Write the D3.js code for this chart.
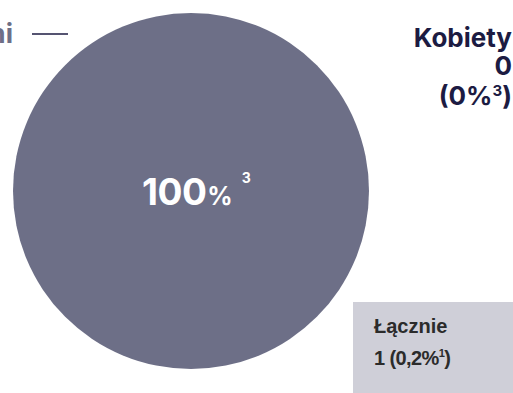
<!DOCTYPE html>
<html>
<head>
<meta charset="utf-8">
<script src="https://cdn.jsdelivr.net/npm/d3@7"></script>
<style>
  html, body { margin: 0; padding: 0; background: #fff; }
  svg { display: block; }
</style>
</head>
<body>
<svg id="chart" width="513" height="393"></svg>
<script>
// Gender split of the count
const categories = ["Mężczyźni", "Kobiety"];
const counts = [1, 0];
const shareLabels = ["100", "0"];
const totalLabel = ["Łącznie", "1 (0,2%", "1", ")"];

const W = 513, H = 393;
const cx = 191, cy = 191, radius = 178;
const colors = d3.scaleOrdinal().domain(categories).range(["#6d6f87", "#2b2d55"]);

const svg = d3.select("#chart");
const font = "Inter, 'Noto Sans', sans-serif";
const boxFont = "'Liberation Sans', Arial, sans-serif";

const pie = d3.pie().sort(null).value(d => d.value);
const arc = d3.arc().innerRadius(0).outerRadius(radius);
const data = categories.map((c, i) => ({ name: c, value: counts[i] }));

const g = svg.append("g").attr("transform", `translate(${cx},${cy})`);
g.selectAll("path")
  .data(pie(data))
  .join("path")
  .attr("d", arc)
  .attr("fill", d => colors(d.data.name));

// Share label inside the big slice
const inner = svg.append("text")
  .attr("x", 142).attr("y", 205)
  .attr("fill", "#fff")
  .attr("font-family", font)
  .attr("font-weight", 700);
inner.append("tspan").attr("font-size", 37).attr("letter-spacing", -0.5).text(shareLabels[0]);
inner.append("tspan").attr("font-size", 25).attr("dx", 1).text("%");
inner.append("tspan").attr("font-size", 14).attr("dy", -22).attr("dx", 9).text("3");

// Left category label (runs off the left edge) with a leader line
svg.append("text")
  .attr("x", 13).attr("y", 43)
  .attr("text-anchor", "end")
  .attr("fill", "#6d6f87")
  .attr("font-family", font).attr("font-weight", 700).attr("font-size", 27)
  .text(categories[0]);
svg.append("line")
  .attr("x1", 32).attr("x2", 68).attr("y1", 34).attr("y2", 34)
  .attr("stroke", "#1c1b42").attr("stroke-width", 1.5);

// Right category label
const kob = svg.append("text")
  .attr("text-anchor", "end")
  .attr("fill", "#1c1b42")
  .attr("font-family", font).attr("font-weight", 700).attr("font-size", 26);
kob.append("tspan").attr("x", 512).attr("y", 47).text(categories[1]);
kob.append("tspan").attr("x", 512).attr("y", 75).text(d3.format("d")(counts[1]));
const pct = kob.append("tspan").attr("x", 512).attr("y", 105);
pct.text("(" + shareLabels[1] + "%");
kob.append("tspan").attr("font-size", 15).attr("dy", -9).text("3");
kob.append("tspan").attr("dy", 9).text(")");

// Total box
svg.append("rect")
  .attr("x", 353).attr("y", 302).attr("width", W - 353).attr("height", H - 302)
  .attr("fill", "#cfcfd8");
svg.append("text")
  .attr("x", 374).attr("y", 333)
  .attr("fill", "#2b2b2b")
  .attr("font-family", boxFont).attr("font-weight", 700).attr("font-size", 20)
  .text(totalLabel[0]);
const tot = svg.append("text")
  .attr("x", 374).attr("y", 365)
  .attr("fill", "#2b2b2b")
  .attr("font-family", boxFont).attr("font-weight", 700).attr("font-size", 20)
  .attr("letter-spacing", -0.6);
tot.append("tspan").text(totalLabel[1]);
tot.append("tspan").attr("font-size", 11).attr("dy", -8).text(totalLabel[2]);
tot.append("tspan").attr("dy", 8).text(totalLabel[3]);
</script>
</body>
</html>
